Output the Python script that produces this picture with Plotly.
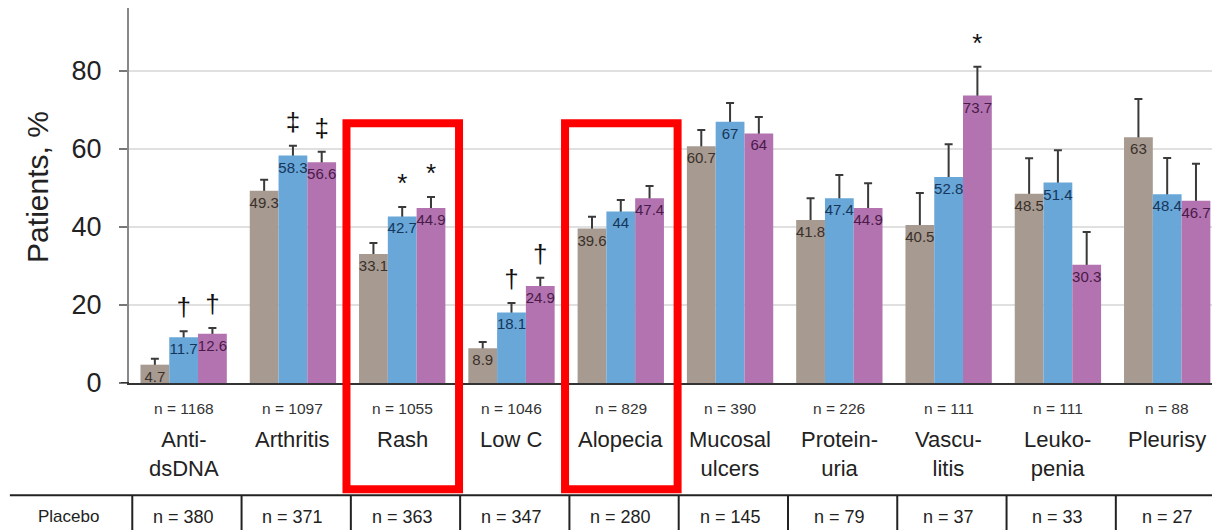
import plotly.graph_objects as go

# ---------------- data ----------------
categories = ["Anti-dsDNA", "Arthritis", "Rash", "Low C", "Alopecia",
              "Mucosal ulcers", "Proteinuria", "Vasculitis", "Leukopenia", "Pleurisy"]
category_labels = ["Anti-<br>dsDNA", "Arthritis", "Rash", "Low C", "Alopecia",
                   "Mucosal<br>ulcers", "Protein-<br>uria", "Vascu-<br>litis",
                   "Leuko-<br>penia", "Pleurisy"]
n_total = [1168, 1097, 1055, 1046, 829, 390, 226, 111, 111, 88]
n_placebo = [380, 371, 363, 347, 280, 145, 79, 37, 33, 27]

placebo = [4.7, 49.3, 33.1, 8.9, 39.6, 60.7, 41.8, 40.5, 48.5, 63]
blue = [11.7, 58.3, 42.7, 18.1, 44, 67, 47.4, 52.8, 51.4, 48.4]
purple = [12.6, 56.6, 44.9, 24.9, 47.4, 64, 44.9, 73.7, 30.3, 46.7]

placebo_err = [1.5, 2.8, 2.8, 1.6, 3.0, 4.2, 5.6, 8.2, 9.1, 9.8]
blue_err = [1.6, 2.5, 2.4, 2.4, 2.9, 4.8, 5.9, 8.4, 8.3, 9.3]
purple_err = [1.5, 2.7, 2.8, 2.1, 3.1, 4.2, 6.3, 7.4, 8.4, 9.5]

placebo_sig = ["", "", "", "", "", "", "", "", "", ""]
blue_sig = ["\u2020", "\u2021", "*", "\u2020", "", "", "", "", "", ""]
purple_sig = ["\u2020", "\u2021", "*", "\u2020", "", "", "", "*", "", ""]

highlighted = ["Rash", "Alopecia"]

# ---------------- style ----------------
FONT = "Arial, Liberation Sans, Helvetica, sans-serif"
series = [
    dict(vals=placebo, err=placebo_err, sig=placebo_sig, color="#a69a91", tcolor="#3a302a"),
    dict(vals=blue, err=blue_err, sig=blue_sig, color="#68a7d8", tcolor="#15365a"),
    dict(vals=purple, err=purple_err, sig=purple_sig, color="#b273b0", tcolor="#4a1a48"),
]
HIDDEN = 0.8    # error-bar foot tucked inside the bar
SIG_GAP = 1.5   # space between error cap and significance mark
CLEAR = "rgba(0,0,0,0)"

fig = go.Figure()

# invisible bars slightly above the error cap: carry the significance marks
for i, s in enumerate(series):
    tops = [v + e + SIG_GAP for v, e in zip(s["vals"], s["err"])]
    fig.add_trace(go.Bar(
        x=categories, y=tops, offsetgroup=str(i),
        marker=dict(color=CLEAR, line=dict(width=0)),
        text=s["sig"], textposition="outside", constraintext="none",
        textfont=dict(size=26, color="#111", family=FONT),
        hoverinfo="skip", showlegend=False, cliponaxis=False,
    ))

# invisible bars reaching the error cap: carry the error bars
for i, s in enumerate(series):
    tops = [v + e for v, e in zip(s["vals"], s["err"])]
    fig.add_trace(go.Bar(
        x=categories, y=tops, offsetgroup=str(i),
        marker=dict(color=CLEAR, line=dict(width=0)),
        error_y=dict(type="data", symmetric=False, array=[0] * len(tops),
                     arrayminus=[e + HIDDEN for e in s["err"]],
                     color="#3a3a3a", thickness=2, width=4),
        hoverinfo="skip", showlegend=False,
    ))

# visible bars with value labels
for i, s in enumerate(series):
    fig.add_trace(go.Bar(
        x=categories, y=s["vals"], offsetgroup=str(i),
        marker=dict(color=s["color"], line=dict(width=0)),
        text=[f"{v:g}" for v in s["vals"]], textposition="inside",
        insidetextanchor="end", textangle=0, constraintext="none",
        textfont=dict(size=15, color=s["tcolor"], family=FONT),
        showlegend=False, cliponaxis=False,
    ))

annotations = []
annotations.append(dict(text="Patients, %", xref="paper", yref="paper",
                        x=-0.084, y=0.523, xanchor="center", yanchor="middle",
                        textangle=-90, showarrow=False,
                        font=dict(size=30, color="#222", family=FONT)))
for cat, lab, nt, npl in zip(categories, category_labels, n_total, n_placebo):
    annotations.append(dict(text=f"n = {nt}", xref="x", yref="paper", x=cat, y=-0.0667,
                            xanchor="center", yanchor="middle", showarrow=False,
                            font=dict(size=15.5, color="#333", family=FONT)))
    annotations.append(dict(text=lab, xref="x", yref="paper", x=cat, y=-0.113,
                            xanchor="center", yanchor="top", showarrow=False,
                            font=dict(size=22, color="#222", family=FONT)))
    annotations.append(dict(text=f"n = {npl}", xref="x", yref="paper", x=cat, y=-0.357,
                            xanchor="center", yanchor="middle", showarrow=False,
                            font=dict(size=18, color="#222", family=FONT)))
annotations.append(dict(text="Placebo", xref="paper", yref="paper", x=-0.0563, y=-0.357,
                        xanchor="center", yanchor="middle", showarrow=False,
                        font=dict(size=17, color="#222", family=FONT)))

shapes = []
shapes.append(dict(type="line", xref="paper", yref="paper", x0=-0.11, x1=1.0,
                   y0=-0.299, y1=-0.299, line=dict(color="#222", width=2)))
for k in range(len(categories)):
    shapes.append(dict(type="line", xref="x", yref="paper", x0=k - 0.47, x1=k - 0.47,
                       y0=-0.299, y1=-0.42, line=dict(color="#222", width=2)))
shapes.append(dict(type="line", xref="paper", yref="y", x0=-0.0075, x1=0, y0=0, y1=0,
                   line=dict(color="#333", width=2)))
for name in highlighted:
    k = categories.index(name)
    shapes.append(dict(type="rect", xref="x", yref="paper", x0=k - 0.51, x1=k + 0.52,
                       y0=-0.283, y1=0.693, line=dict(color="#ff0000", width=8),
                       fillcolor=CLEAR, layer="above"))

fig.update_layout(
    width=1204, height=522,
    margin=dict(l=121, r=0, t=0, b=147),
    paper_bgcolor="white", plot_bgcolor="white",
    barmode="group", bargap=0.21, bargroupgap=0,
    font=dict(family=FONT),
    xaxis=dict(type="category", range=[-0.5, 9.41], showticklabels=False, ticks="",
               showline=True, linecolor="#333", linewidth=2, showgrid=False, zeroline=False),
    yaxis=dict(range=[0, 96.15], tickvals=[0, 20, 40, 60, 80], ticks="outside", ticklen=8,
               tickwidth=2, tickcolor="#777", showline=True, linecolor="#888", linewidth=2,
               showgrid=True, gridcolor="#e0e0e0", gridwidth=1.5, zeroline=False,
               tickfont=dict(size=27, color="#222", family=FONT), ticklabelstandoff=12),
    annotations=annotations, shapes=shapes,
)

fig.write_html("out.html")
